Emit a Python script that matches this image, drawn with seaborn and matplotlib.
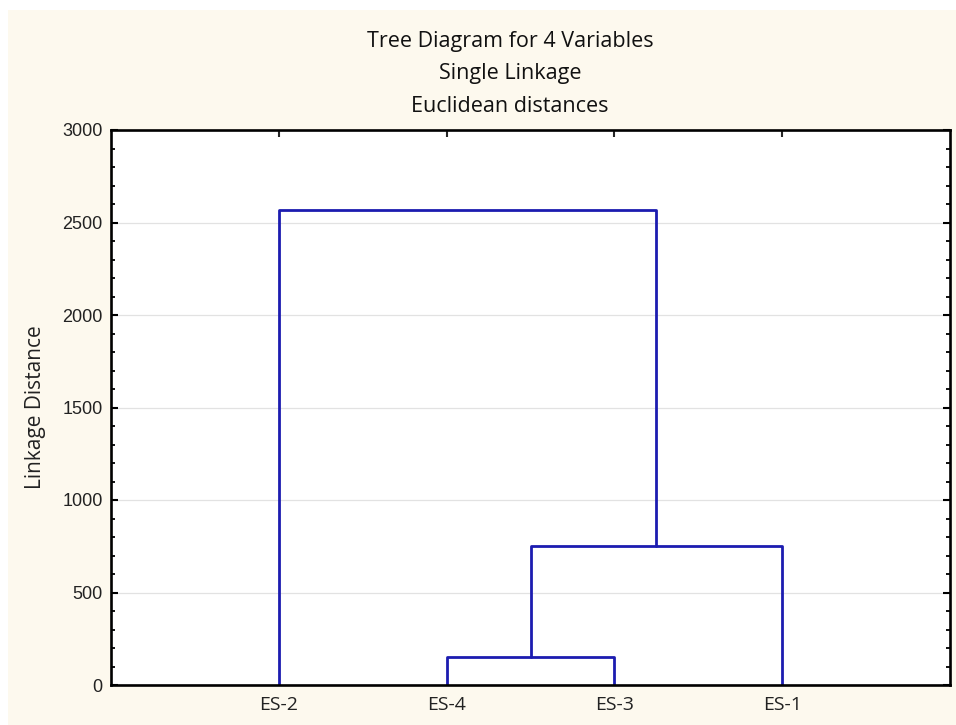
import numpy as np
import pandas as pd
import matplotlib
matplotlib.use("Agg")
import matplotlib.pyplot as plt
import seaborn as sns
from matplotlib.ticker import MultipleLocator

# leaves in plotted order, and merges (left, right, height)
leaves = ["ES-2", "ES-4", "ES-3", "ES-1"]
merge_left = ["ES-4", "C1", "ES-2"]
merge_right = ["ES-3", "ES-1", "C2"]
merge_height = [150, 750, 2565]

sns.set_theme(style="white")
plt.rcParams['font.family'] = ['Liberation Sans', 'DejaVu Sans']

# build the U-shaped links of the tree
pos = {name: i + 1 for i, name in enumerate(leaves)}
hgt = {name: 0 for name in leaves}
rows = []
for k, (a, b, h) in enumerate(zip(merge_left, merge_right, merge_height)):
    xa, xb = pos[a], pos[b]
    for x, y in [(xa, hgt[a]), (xa, h), (xb, h), (xb, hgt[b])]:
        rows.append({"link": k, "x": x, "y": y})
    pos[f"C{k + 1}"] = (xa + xb) / 2
    hgt[f"C{k + 1}"] = h
df = pd.DataFrame(rows)

fig = plt.figure(figsize=(9.56, 7.25), dpi=100, facecolor="white")
# cream panel behind the chart (white strip on top and left)
fig.patches.append(plt.Rectangle((8 / 956, 0), 1, 1 - 10 / 725, transform=fig.transFigure,
                                 facecolor="#fdf9ee", edgecolor="none", zorder=-5))

ax = fig.add_axes([111 / 956, 40 / 725, (950 - 111) / 956, (685 - 130) / 725])
ax.set_facecolor("white")

sns.lineplot(data=df, x="x", y="y", units="link", estimator=None, sort=False,
             color="#1c1cb0", lw=2.0, ax=ax)

ax.set_xlim(0, 5)
ax.set_ylim(0, 3000)
ax.set_xticks(range(1, len(leaves) + 1))
ax.set_xticklabels(leaves, family=['Open Sans', 'DejaVu Sans'], fontsize=14, color="#222222")
ax.yaxis.set_major_locator(MultipleLocator(500))
ax.yaxis.set_minor_locator(MultipleLocator(100))
ax.grid(axis="y", color="#e2e2e2", lw=0.9)
ax.set_axisbelow(True)

for s in ax.spines.values():
    s.set_color("black")
    s.set_linewidth(1.9)

ax.tick_params(axis="y", which="both", direction="in", left=True, right=True,
               labelsize=13, colors="black", pad=6)
ax.tick_params(axis="y", which="major", length=5, width=1.5)
ax.tick_params(axis="y", which="minor", length=3, width=1.3)
ax.tick_params(axis="x", which="major", direction="in", top=True, bottom=False,
               length=5, width=1.5, pad=8)
for t in ax.get_yticklabels():
    t.set_color("#222222")

ax.set_xlabel("")
ax.set_ylabel("Linkage Distance", family=['Open Sans', 'DejaVu Sans'],
              fontsize=15, labelpad=12, color="#222222")

fig.text(510 / 956, 1 - 74 / 725, "Tree Diagram for 4 Variables\nSingle Linkage\nEuclidean distances",
         ha="center", va="center", fontsize=15.5, linespacing=1.75,
         family=['Open Sans', 'DejaVu Sans'], color="#111111")

fig.savefig("out.png", dpi=100, facecolor=fig.get_facecolor())
